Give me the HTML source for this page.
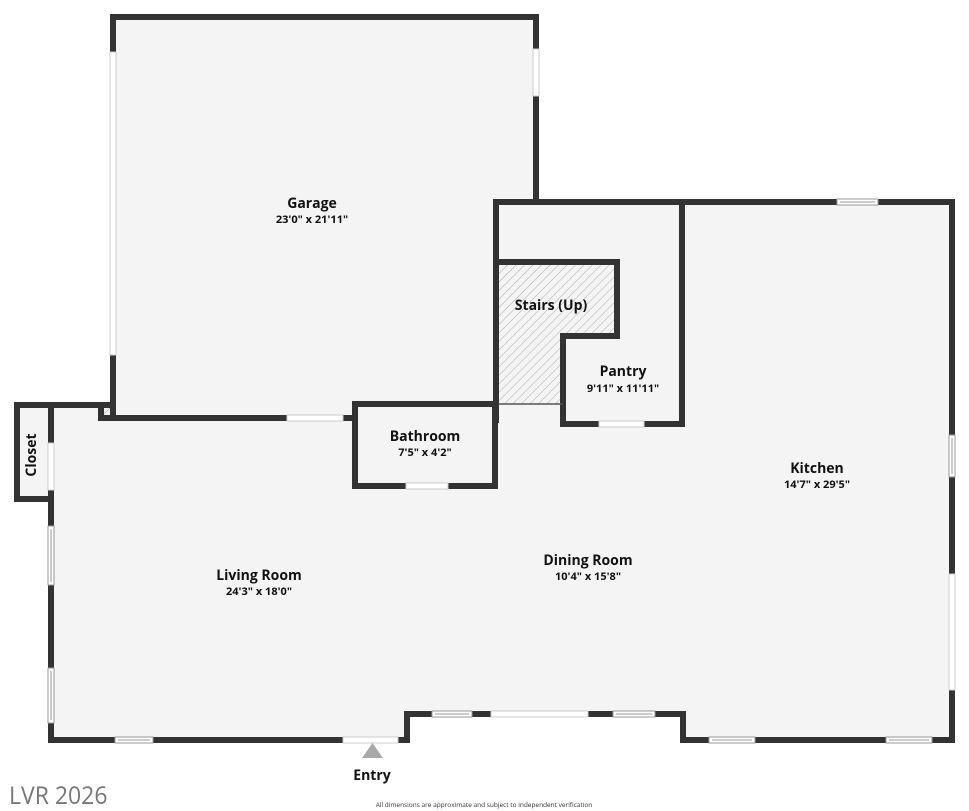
<!DOCTYPE html>
<html><head><meta charset="utf-8"><style>
html,body{margin:0;padding:0;background:#fff;}
svg{display:block;}
text{font-family:"Open Sans","Liberation Sans","DejaVu Sans",sans-serif;fill:#111;text-anchor:middle;}
.n{font-size:14px;font-weight:bold;}
.d{font-size:11px;font-weight:bold;}
</style></head><body>
<svg width="969" height="811" viewBox="0 0 969 811" xmlns="http://www.w3.org/2000/svg">
<defs>
<pattern id="h" width="6" height="6" patternUnits="userSpaceOnUse" patternTransform="rotate(45)">
<rect width="6" height="6" fill="#f4f4f4"/><line x1="0" y1="0" x2="0" y2="6" stroke="#aaa" stroke-width="1"/>
</pattern>
</defs>
<polygon fill="#f4f4f4" points="113,17 536,17 536,202 952,202 952,740 683,740 683,714 407,714 407,740 51,740 51,499 17,499 17,405 113,405"/>
<polygon fill="url(#h)" points="499,265 614,265 614,336 563,336 563,404 499,404"/>
<rect x="101" y="408" width="12" height="10" fill="url(#h)"/>
<g stroke="#333" stroke-width="6" fill="none" stroke-linecap="square">
<polyline points="113,418 113,17 536,17 536,202"/>
<line x1="101" y1="418" x2="352" y2="418"/>
<line x1="101" y1="405" x2="101" y2="418"/>
<polyline points="113,405 17,405 17,499 51,499"/>
<line x1="51" y1="405" x2="51" y2="740"/>
<polyline points="496,420 496,202 952,202 952,740 683,740 683,714 407,714 407,740 51,740"/>
<polyline points="355,404 495,404 495,486 355,486 355,404"/>
<polyline points="496,262 617,262 617,336 563,336 563,424 682,424 682,202"/>
</g>
<line x1="499" y1="404" x2="563" y2="404" stroke="#555" stroke-width="1.5"/>
<g fill="#fff" stroke="#ccc" stroke-width="1">
<rect x="110" y="52" width="6" height="303"/>
<rect x="533" y="49" width="6" height="47"/>
<rect x="287" y="415" width="56" height="6"/>
<rect x="406" y="483" width="42" height="6"/>
<rect x="599" y="421" width="45" height="6"/>
<rect x="48" y="443" width="6" height="47"/>
<rect x="949" y="574" width="6" height="116"/>
<rect x="343" y="737" width="55" height="6"/>
<rect x="491" y="711" width="97" height="6"/>
</g>
<g fill="#fff" stroke="#999" stroke-width="1">
<rect x="837" y="199" width="41" height="6"/><line x1="840" y1="202" x2="875" y2="202" stroke="#999"/>
<rect x="949" y="435" width="6" height="42"/><line x1="952" y1="438" x2="952" y2="474"/>
<rect x="48" y="526" width="6" height="59"/><line x1="51" y1="529" x2="51" y2="582"/>
<rect x="48" y="668" width="6" height="55"/><line x1="51" y1="671" x2="51" y2="720"/>
<rect x="115" y="737" width="38" height="6"/><line x1="118" y1="740" x2="150" y2="740"/>
<rect x="432" y="711" width="40" height="6"/><line x1="435" y1="714" x2="469" y2="714"/>
<rect x="613" y="711" width="42" height="6"/><line x1="616" y1="714" x2="652" y2="714"/>
<rect x="709" y="737" width="46" height="6"/><line x1="712" y1="740" x2="752" y2="740"/>
<rect x="886" y="737" width="46" height="6"/><line x1="889" y1="740" x2="929" y2="740"/>
</g>
<polygon points="362,758 383,758 372.5,743" fill="#a8a8a8"/>
<text class="n" x="312" y="208">Garage</text><text class="d" x="312" y="223">23'0" x 21'11"</text>
<text class="n" x="551" y="310">Stairs (Up)</text>
<text class="n" x="623" y="376">Pantry</text><text class="d" x="623" y="392">9'11" x 11'11"</text>
<text class="n" x="425" y="441">Bathroom</text><text class="d" x="425" y="456">7'5" x 4'2"</text>
<text class="n" x="817" y="473">Kitchen</text><text class="d" x="817" y="488">14'7" x 29'5"</text>
<text class="n" x="588" y="565">Dining Room</text><text class="d" x="588" y="580">10'4" x 15'8"</text>
<text class="n" x="259" y="580">Living Room</text><text class="d" x="259" y="595">24'3" x 18'0"</text>
<text class="n" transform="translate(36,455) rotate(-90)">Closet</text>
<text class="n" x="372" y="780">Entry</text>
<text transform="translate(9,804) scale(0.92,1)" style="text-anchor:start;font-size:25px;fill:#777;font-weight:normal">LVR 2026</text>
<text x="484" y="807" style="font-size:6.5px;fill:#333">All dimensions are approximate and subject to independent verification</text>
</svg>
</body></html>
